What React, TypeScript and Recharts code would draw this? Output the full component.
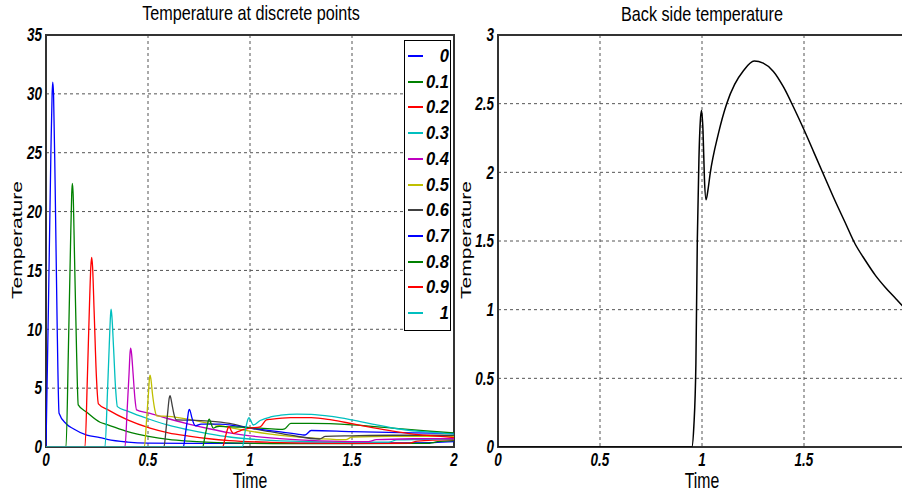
import React from "react"
import {
  CartesianGrid,
  Line,
  LineChart,
  ReferenceArea,
  XAxis,
  YAxis,
} from "recharts"

const FONT = "'Liberation Sans', Arial, sans-serif"

const xTicks = [0, 0.5, 1, 1.5, 2]
const rightXTicks = [0, 0.5, 1, 1.5]
const leftYTicks = [0, 5, 10, 15, 20, 25, 30, 35]
const rightYTicks = [0, 0.5, 1, 1.5, 2, 2.5, 3]

const positions = ["0", "0.1", "0.2", "0.3", "0.4", "0.5", "0.6", "0.7", "0.8", "0.9", "1"]
const colors = [
  "#0000ff", "#008000", "#ff0000", "#00bfbf", "#bf00bf", "#bfbf00",
  "#404040", "#0000ff", "#008000", "#ff0000", "#00bfbf",
]

type Pt = [number, number]

// [time, temperature]
const p00: Pt[] = [
  [0, 0], [0.012, 12], [0.024, 25], [0.03, 30], [0.033, 31], [0.037, 30], [0.045, 22],
  [0.055, 10], [0.064, 2.87], [0.1, 1.95], [0.134, 1.55], [0.2, 1.0], [0.265, 0.8],
  [0.3, 0.65], [0.4, 0.42], [0.5, 0.33], [0.7, 0.3], [1.0, 0.3], [1.4, 0.32], [1.7, 0.35],
  [1.9, 0.38], [2, 0.45],
]
const p01: Pt[] = [
  [0, 0], [0.098, 0], [0.11, 8.5], [0.12, 17], [0.126, 21.5], [0.129, 22.4], [0.133, 21.5],
  [0.14, 16], [0.15, 8], [0.158, 3.58], [0.2, 2.95], [0.265, 2.1], [0.3, 1.9], [0.4, 1.3],
  [0.51, 0.88], [0.6, 0.65], [0.7, 0.5], [0.9, 0.35], [1.2, 0.28], [1.5, 0.28], [1.8, 0.3],
  [1.88, 0.32], [1.92, 0.45], [2, 0.55],
]
const p02: Pt[] = [
  [0, 0], [0.191, 0], [0.203, 6], [0.213, 12], [0.22, 15.4], [0.224, 16.1], [0.228, 15.4],
  [0.236, 11.5], [0.247, 6], [0.257, 3.66], [0.3, 3.2], [0.4, 2.3], [0.51, 1.6], [0.6, 1.2],
  [0.7, 0.92], [0.8, 0.7], [0.9, 0.55], [1.1, 0.4], [1.4, 0.32], [1.7, 0.32], [1.78, 0.33],
  [1.82, 0.5], [2, 0.62],
]
const p03: Pt[] = [
  [0, 0], [0.289, 0], [0.301, 4.5], [0.31, 8.6], [0.316, 11.1], [0.319, 11.7], [0.323, 11.1],
  [0.331, 8.5], [0.341, 5], [0.35, 3.43], [0.4, 3.05], [0.5, 2.4], [0.6, 1.85], [0.7, 1.45],
  [0.8, 1.12], [0.9, 0.85], [1.0, 0.68], [1.2, 0.5], [1.5, 0.42], [1.68, 0.42], [1.72, 0.6],
  [1.85, 0.65], [2, 0.7],
]
const p04: Pt[] = [
  [0, 0], [0.387, 0], [0.398, 3.2], [0.407, 6.2], [0.412, 8.0], [0.415, 8.4], [0.419, 8.0],
  [0.427, 6.2], [0.436, 4.1], [0.444, 3.15], [0.5, 2.9], [0.6, 2.4], [0.7, 1.95], [0.8, 1.55],
  [0.9, 1.2], [1.0, 0.95], [1.2, 0.65], [1.4, 0.5], [1.58, 0.45], [1.62, 0.62], [1.8, 0.7],
  [2, 0.72],
]
const p05: Pt[] = [
  [0, 0], [0.482, 0], [0.493, 2.3], [0.502, 4.5], [0.507, 5.8], [0.51, 6.1], [0.514, 5.8],
  [0.522, 4.5], [0.533, 3.2], [0.543, 2.64], [0.6, 2.6], [0.7, 2.35], [0.8, 2.0], [0.9, 1.65],
  [1.0, 1.35], [1.1, 1.1], [1.2, 0.9], [1.35, 0.7], [1.47, 0.62], [1.5, 0.85], [1.7, 0.9],
  [2, 0.9],
]
const p06: Pt[] = [
  [0, 0], [0.578, 0], [0.589, 1.6], [0.598, 3.2], [0.604, 4.15], [0.608, 4.37], [0.612, 4.15],
  [0.62, 3.4], [0.63, 2.6], [0.64, 2.3], [0.7, 2.28], [0.8, 2.2], [0.9, 2.0], [1.0, 1.6],
  [1.1, 1.3], [1.2, 1.0], [1.34, 0.68], [1.37, 0.9], [1.5, 0.95], [1.7, 1.0], [2, 1.0],
]
const p07: Pt[] = [
  [0, 0], [0.673, 0], [0.684, 1.2], [0.693, 2.3], [0.699, 3.05], [0.703, 3.2], [0.707, 3.05],
  [0.715, 2.5], [0.725, 1.95], [0.734, 1.8], [0.76, 1.95], [0.85, 1.95], [0.95, 1.75],
  [1.05, 1.5], [1.15, 1.28], [1.25, 1.05], [1.27, 1.02], [1.3, 1.4], [1.5, 1.3], [1.8, 1.2],
  [2, 1.15],
]
const p08: Pt[] = [
  [0, 0], [0.768, 0], [0.779, 0.9], [0.789, 1.7], [0.796, 2.25], [0.8, 2.36], [0.804, 2.25],
  [0.81, 1.95], [0.82, 1.6], [0.835, 1.72], [0.85, 1.75], [0.95, 1.68], [1.05, 1.6],
  [1.15, 1.5], [1.17, 1.55], [1.2, 2.0], [1.3, 2.0], [1.5, 1.88], [1.7, 1.6], [1.85, 1.38],
  [2, 1.2],
]
const p09: Pt[] = [
  [0, 0], [0.866, 0], [0.877, 0.7], [0.886, 1.3], [0.893, 1.65], [0.897, 1.73], [0.901, 1.65],
  [0.909, 1.35], [0.918, 1.16], [0.94, 1.3], [0.97, 1.5], [1.0, 1.6], [1.05, 1.7], [1.08, 2.3],
  [1.1, 2.35], [1.2, 2.5], [1.3, 2.5], [1.4, 2.3], [1.5, 1.98], [1.6, 1.65], [1.7, 1.35],
  [1.8, 1.1], [1.9, 0.95], [2, 0.8],
]
const p10: Pt[] = [
  [0, 0], [0.962, 0], [0.978, 1.5], [0.99, 2.35], [0.995, 2.5], [1.002, 2.3], [1.016, 1.87],
  [1.05, 2.25], [1.1, 2.55], [1.15, 2.7], [1.23, 2.8], [1.3, 2.78], [1.4, 2.6], [1.5, 2.3],
  [1.6, 1.95], [1.72, 1.55], [1.85, 1.3], [2, 1.1],
]

// back side (x = 1) temperature, right panel
const backSide: Pt[] = [
  [0, 0], [0.9, 0], [0.95, 0], [0.96, 0.15], [0.97, 0.6], [0.977, 1.5], [0.985, 2.1],
  [0.993, 2.4], [0.998, 2.45], [1.005, 2.3], [1.012, 1.95], [1.02, 1.8], [1.03, 1.88],
  [1.04, 1.99], [1.08, 2.28], [1.121, 2.5], [1.16, 2.64], [1.203, 2.74], [1.256, 2.81],
  [1.3, 2.795], [1.35, 2.735], [1.4, 2.62], [1.45, 2.47], [1.5, 2.31], [1.55, 2.14],
  [1.6, 1.97], [1.65, 1.8], [1.7, 1.64], [1.75, 1.48], [1.8, 1.36], [1.85, 1.25],
  [1.9, 1.16], [1.95, 1.08], [2, 1.0],
]

const allPoints = [p00, p01, p02, p03, p04, p05, p06, p07, p08, p09, p10]

const rows = (pts: Pt[]) => pts.map(([t, v]) => ({ t, v }))

// bold italic tick labels, stretched vertically like the source image
function XTick(props: any) {
  const { x, y, payload } = props
  return (
    <text
      transform={`translate(${x},${y}) scale(1,1.3)`}
      textAnchor="middle"
      dy="0.36em"
      fontFamily={FONT}
      fontSize={13.5}
      fontWeight={700}
      fontStyle="italic"
      fill="#000"
    >
      {String(payload.value)}
    </text>
  )
}

function YTick(props: any) {
  const { x, y, payload } = props
  return (
    <text
      transform={`translate(${x},${y}) scale(1,1.3)`}
      textAnchor="end"
      dy="0.36em"
      fontFamily={FONT}
      fontSize={13.5}
      fontWeight={700}
      fontStyle="italic"
      fill="#000"
    >
      {String(payload.value)}
    </text>
  )
}

function Text({
  x,
  y,
  size,
  stretch,
  rotate,
  children,
}: {
  x: number
  y: number
  size: number
  stretch: number
  rotate?: boolean
  children: React.ReactNode
}) {
  return (
    <div
      style={{
        position: "absolute",
        left: x,
        top: y,
        transform: `translate(-50%, -50%) scaleY(${stretch})${rotate ? " rotate(-90deg)" : ""}`,
        fontFamily: FONT,
        fontSize: size,
        whiteSpace: "nowrap",
        lineHeight: 0.8,
        color: "#000",
      }}
    >
      {children}
    </div>
  )
}

export default function App() {
  return (
    <div
      style={{
        position: "fixed",
        left: 0,
        top: 0,
        width: 902,
        height: 493,
        overflow: "hidden",
        background: "#fff",
      }}
    >
      <div style={{ position: "absolute", left: 0, top: 0 }}>
        <LineChart
          width={470}
          height={493}
          margin={{ top: 35, right: 16, bottom: 16, left: 16 }}
        >
          <CartesianGrid stroke="#555" strokeDasharray="3 3" />
          <XAxis
            dataKey="t"
            type="number"
            domain={[0, 2]}
            ticks={xTicks}
            allowDataOverflow
            axisLine={false}
            tickLine={false}
            tickSize={0}
            tickMargin={13}
            height={30}
            tick={<XTick />}
          />
          <YAxis
            type="number"
            domain={[0, 35]}
            ticks={leftYTicks}
            allowDataOverflow
            axisLine={false}
            tickLine={false}
            tickSize={0}
            tickMargin={4}
            width={30}
            tick={<YTick />}
          />
          <ReferenceArea
            x1={0}
            x2={2}
            y1={0}
            y2={35}
            fill="#fff"
            fillOpacity={0}
            stroke="#333"
            strokeWidth={2}
            ifOverflow="visible"
          />
          {allPoints.map((pts, i) => (
            <Line
              key={positions[i]}
              data={rows(pts)}
              dataKey="v"
              type="monotone"
              stroke={colors[i]}
              strokeWidth={1.3}
              dot={false}
              activeDot={false}
              isAnimationActive={false}
            />
          ))}
        </LineChart>
      </div>

      <div style={{ position: "absolute", left: 460, top: 0 }}>
        <LineChart
          width={470}
          height={493}
          margin={{ top: 35, right: 24, bottom: 16, left: 8 }}
        >
          <CartesianGrid stroke="#555" strokeDasharray="3 3" />
          <XAxis
            dataKey="t"
            type="number"
            domain={[0, 2]}
            ticks={rightXTicks}
            allowDataOverflow
            axisLine={false}
            tickLine={false}
            tickSize={0}
            tickMargin={13}
            height={30}
            tick={<XTick />}
          />
          <YAxis
            type="number"
            domain={[0, 3]}
            ticks={rightYTicks}
            allowDataOverflow
            axisLine={false}
            tickLine={false}
            tickSize={0}
            tickMargin={4}
            width={30}
            tick={<YTick />}
          />
          <ReferenceArea
            x1={0}
            x2={2}
            y1={0}
            y2={3}
            fill="#fff"
            fillOpacity={0}
            stroke="#333"
            strokeWidth={2}
            ifOverflow="visible"
          />
          <Line
            data={rows(backSide)}
            dataKey="v"
            type="monotone"
            stroke="#000"
            strokeWidth={1.5}
            dot={false}
            activeDot={false}
            isAnimationActive={false}
          />
        </LineChart>
      </div>

      {/* legend of the left panel */}
      <div
        style={{
          position: "absolute",
          left: 404,
          top: 40,
          width: 45,
          height: 289,
          border: "1.5px solid #000",
          background: "#fff",
          boxSizing: "content-box",
        }}
      >
        {positions.map((name, i) => (
          <div
            key={name}
            style={{
              position: "absolute",
              left: 0,
              right: 0,
              top: Math.round(2 + i * 25.7),
              height: 26,
            }}
          >
            <div
              style={{
                position: "absolute",
                left: 3,
                width: 15,
                top: 12,
                height: 2,
                background: colors[i],
              }}
            />
            <span
              style={{
                position: "absolute",
                right: 1,
                top: 13,
                transform: "translateY(-50%) scaleY(1.12)",
                fontFamily: FONT,
                fontWeight: 700,
                fontStyle: "italic",
                fontSize: 16.5,
                lineHeight: 1,
              }}
            >
              {name}
            </span>
          </div>
        ))}
      </div>

      <Text x={251} y={13} size={16.2} stretch={1.2}>Temperature at discrete points</Text>
      <Text x={702} y={14} size={16.2} stretch={1.2}>Back side temperature</Text>
      <Text x={18} y={240} size={14.5} stretch={1.45} rotate>Temperature</Text>
      <Text x={467} y={240} size={14.5} stretch={1.45} rotate>Temperature</Text>
      <Text x={250} y={481} size={15.8} stretch={1.4}>Time</Text>
      <Text x={702} y={481} size={15.8} stretch={1.4}>Time</Text>
    </div>
  )
}
